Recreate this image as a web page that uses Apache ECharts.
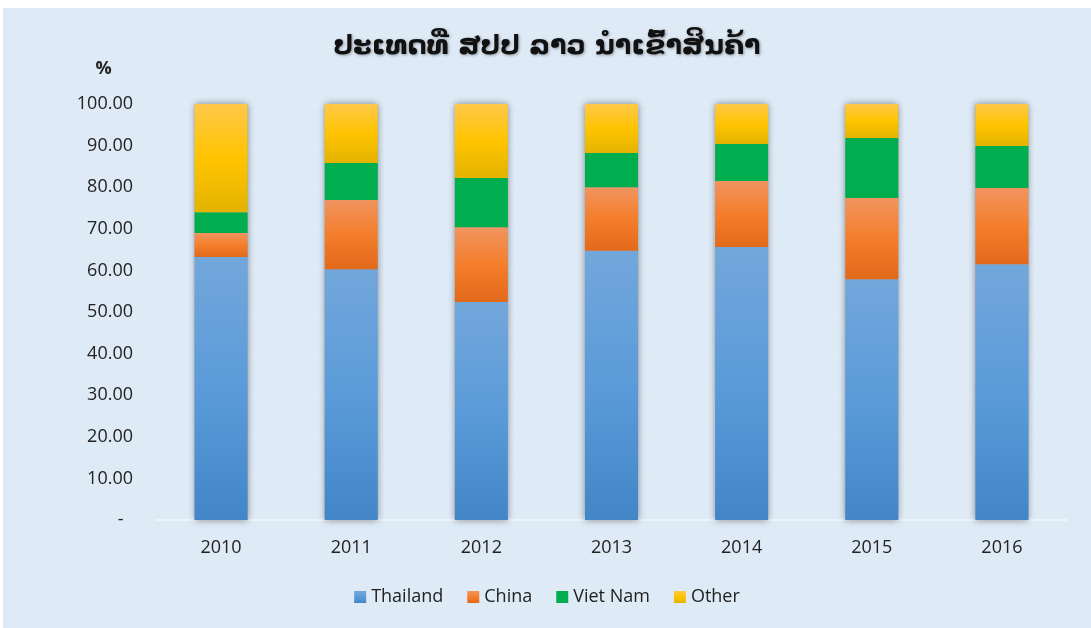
<!DOCTYPE html>
<html>
<head>
<meta charset="utf-8">
<script src="https://cdn.jsdelivr.net/npm/echarts@6/dist/echarts.min.js"></script>
<style>
  html, body { margin: 0; padding: 0; background: #fff; width: 1091px; height: 628px; overflow: hidden; }
  #chart { position: absolute; left: 3px; top: 8px; width: 1088px; height: 620px; background: #DEEAF6; }
</style>
</head>
<body>
<div id="chart"></div>
<script>
// ຂໍ້ມູນ (%)
const years = ['2010', '2011', '2012', '2013', '2014', '2015', '2016']
const thailand = [63.2, 60.3, 52.4, 64.7, 65.6, 57.9, 61.5]
const china = [5.8, 16.6, 18.0, 15.3, 15.9, 19.5, 18.3]
const vietnam = [5.0, 8.9, 11.8, 8.2, 8.9, 14.4, 10.1]
const other = [26.0, 14.2, 17.8, 11.8, 9.6, 8.2, 10.1]

const totals = years.map((y, i) => +(thailand[i] + china[i] + vietnam[i] + other[i]).toFixed(2))

const grad = (stops) => new echarts.graphic.LinearGradient(0, 0, 0, 1,
  stops.map((c, i) => ({ offset: i / (stops.length - 1), color: c })))

const myEchart = echarts.init(document.getElementById('chart'))

const option = {
  animation: false,
  textStyle: { fontFamily: 'Open Sans' },
  title: {
    text: 'ປະເທດທີ່ ສປປ ລາວ ນຳເຂົ້າສິນຄ້າ',
    left: 'center',
    top: 20,
    textStyle: {
      fontFamily: 'DejaVu Sans',
      fontSize: 27,
      fontWeight: 'bold',
      color: '#111',
      textShadowColor: 'rgba(0,0,0,0.35)',
      textShadowBlur: 3,
      textShadowOffsetX: 1,
      textShadowOffsetY: 1
    }
  },
  legend: {
    bottom: 17,
    left: 'center',
    itemWidth: 12,
    itemHeight: 12,
    itemGap: 24,
    icon: 'rect',
    data: ['Thailand', 'China', 'Viet Nam', 'Other'],
    textStyle: { fontSize: 18, color: '#222' }
  },
  grid: { left: 153, right: 24, top: 96, bottom: 108 },
  xAxis: {
    type: 'category',
    data: years,
    axisTick: { show: false },
    axisLine: { lineStyle: { color: '#EEF3F9', width: 2 } },
    axisLabel: { fontSize: 18, color: '#222', margin: 19 }
  },
  yAxis: {
    type: 'value',
    min: 0,
    max: 100,
    interval: 10,
    name: '%',
    nameLocation: 'end',
    nameGap: 26,
    nameTextStyle: { fontSize: 18, fontWeight: 'bold', color: '#222', padding: [0, 105, 0, 0] },
    axisLine: { show: false },
    axisTick: { show: false },
    splitLine: { lineStyle: { color: '#E3EDF8', width: 1 } },
    axisLabel: {
      fontSize: 18,
      color: '#222',
      margin: 23,
      formatter: (v) => (v === 0 ? '-  ' : v.toFixed(2))
    }
  },
  series: [
    {
      name: 'shadow',
      type: 'bar',
      barWidth: 53,
      barGap: '-100%',
      z: 1,
      silent: true,
      data: totals,
      itemStyle: {
        color: '#9AA7B5',
        shadowColor: 'rgba(0,0,0,0.45)',
        shadowBlur: 7
      }
    },
    {
      name: 'Thailand',
      type: 'bar',
      stack: 'total',
      barWidth: 53,
      z: 2,
      data: thailand,
      itemStyle: { color: grad(['#72A7DB', '#5B9BD9', '#4286C8']) }
    },
    {
      name: 'China',
      type: 'bar',
      stack: 'total',
      z: 2,
      data: china,
      itemStyle: { color: grad(['#F19460', '#F47E2B', '#E2691A']) }
    },
    {
      name: 'Viet Nam',
      type: 'bar',
      stack: 'total',
      z: 2,
      data: vietnam,
      itemStyle: { color: '#00AE50' }
    },
    {
      name: 'Other',
      type: 'bar',
      stack: 'total',
      z: 2,
      data: other,
      itemStyle: { color: grad(['#FFC84A', '#FFC400', '#E3B300']) }
    }
  ]
}

myEchart.setOption(option)
</script>
</body>
</html>
